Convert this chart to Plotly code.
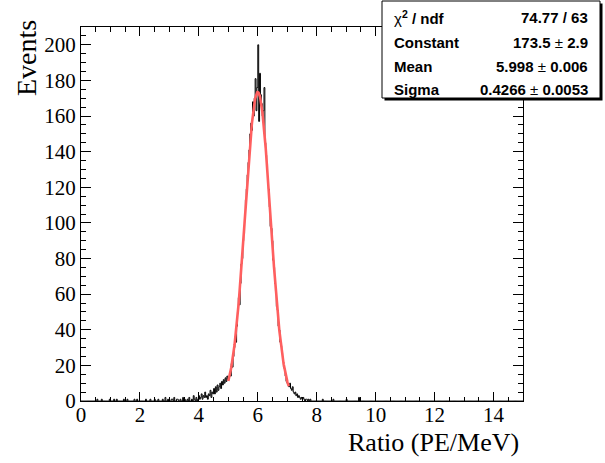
import numpy as np
import plotly.graph_objects as go

# ---------------- data ----------------
N_BINS = 500
X_MIN, X_MAX = 0.0, 15.0

# sparse entries in the low tail: bin index -> events
low_tail = {18: 1, 23: 1, 32: 1, 37: 1, 40: 1, 48: 1, 52: 1, 60: 1, 63: 1,
            73: 1, 78: 1, 83: 1, 87: 1, 92: 1, 95: 2, 98: 1, 102: 1, 103: 1,
            105: 2, 108: 1, 109: 1, 112: 1, 115: 2, 117: 1, 120: 1, 122: 2,
            125: 1, 127: 3, 128: 1}

# contiguous region around the peak, starting at bin 130 (x = 3.9)
peak_start = 130
peak_counts = [
    2, 0, 1, 3, 1, 2, 4, 1, 3, 2, 5, 2, 3, 1, 4, 3, 6, 2, 5, 4,          # 130-149
    7, 4, 8, 5, 9, 6, 8, 10, 7, 11,                                      # 150-159
    9, 12, 10, 13, 11, 14, 12, 13, 16, 14,                               # 160-169
    21, 19, 25, 30, 36, 33, 42, 50, 58, 54,                              # 170-179
    66, 77, 80, 90, 94, 104, 113, 119, 127, 134,                         # 180-189
    141, 150, 156, 152, 168, 160, 170, 181, 163, 176,                    # 190-199
    200, 157, 184, 172, 167, 160, 163, 176, 145, 138,                    # 200-209
    133, 124, 119, 109, 98, 97, 90, 79, 75, 66,                          # 210-219
    62, 53, 51, 42, 40, 33, 31, 27, 24, 19,                              # 220-229
    18, 14, 11, 10, 9, 8, 10, 7, 6, 8,                                   # 230-239
    5, 4, 5, 3, 4, 2, 3, 2, 1, 2,                                        # 240-249
    1, 2, 1, 0, 1, 1, 0, 1, 0, 1,                                        # 250-259
]

# sparse entries in the high tail
high_tail = {273: 1, 285: 1, 300: 1, 314: 2}

# Gaussian fit result (from the stats box)
fit_const = 173.5
fit_mean = 5.998
fit_sigma = 0.4266
fit_range = (5.0, 7.05)

stats_labels = ["χ<sup><b>2</b></sup><b> / ndf</b>", "<b>Constant</b>", "<b>Mean</b>", "<b>Sigma</b>"]
stats_values = ["<b>74.77 / 63</b>", "<b>173.5</b> ± <b>2.9</b>",
                "<b>5.998</b> ± <b>0.006</b>", "<b>0.4266</b> ± <b>0.0053</b>"]

x_title = "Ratio (PE/MeV)"
y_title = "Events"

# ---------------- build histogram ----------------
counts = np.zeros(N_BINS)
for b, c in low_tail.items():
    counts[b] = c
for i, c in enumerate(peak_counts):
    counts[peak_start + i] = c
for b, c in high_tail.items():
    counts[b] = c

edges = np.linspace(X_MIN, X_MAX, N_BINS + 1)
hx = edges
hy = np.append(counts, counts[-1])

fx = np.linspace(fit_range[0], fit_range[1], 300)
fy = fit_const * np.exp(-0.5 * ((fx - fit_mean) / fit_sigma) ** 2)

# ---------------- layout geometry (pixels) ----------------
W, H = 605, 463
PL, PR, PT, PB = 81, 523, 27, 401


def px(x):
    return (x - PL) / (PR - PL)


def py(y):
    return (PB - y) / (PB - PT)


fig = go.Figure()
fig.add_trace(go.Scatter(x=hx, y=hy, mode="lines", line=dict(color="black", width=1, shape="hv"),
                         hoverinfo="skip", showlegend=False))
fig.add_trace(go.Scatter(x=fx, y=fy, mode="lines", line=dict(color="rgb(255,95,95)", width=2.6),
                         hoverinfo="skip", showlegend=False))

tickfont = dict(family="Liberation Serif", size=21, color="black")
fig.update_xaxes(range=[X_MIN, X_MAX], dtick=2, tick0=0, ticks="inside", ticklen=9, tickwidth=1,
                 tickcolor="black", showline=True, linecolor="black", linewidth=1, mirror="allticks",
                 showgrid=False, zeroline=False, tickfont=tickfont, ticklabelstandoff=-5,
                 minor=dict(dtick=0.5, ticks="inside", ticklen=4.5, tickcolor="black", tickwidth=1,
                            showgrid=False))
fig.update_yaxes(range=[0, 210], dtick=20, tick0=0, ticks="inside", ticklen=10, tickwidth=1,
                 tickcolor="black", showline=True, linecolor="black", linewidth=1, mirror="allticks",
                 showgrid=False, zeroline=False, tickfont=tickfont,
                 minor=dict(dtick=5, ticks="inside", ticklen=5, tickcolor="black", tickwidth=1,
                            showgrid=False))

shapes = []
# stats box shadow and box
bx0, by0, bx1, by1 = 382, 1, 600, 98
shapes.append(dict(type="rect", xref="paper", yref="paper", x0=px(bx0 + 2.5), x1=px(bx1 + 2.5),
                   y0=py(by1 + 2.5), y1=py(by0 + 2.5), fillcolor="black", line=dict(width=0), layer="above"))
shapes.append(dict(type="rect", xref="paper", yref="paper", x0=px(bx0), x1=px(bx1),
                   y0=py(by1), y1=py(by0), fillcolor="white", line=dict(color="black", width=1), layer="above"))

annotations = []
row_y = [17.5, 42.5, 66, 89]
sfont = dict(family="Liberation Sans", size=15, color="black")
for lab, val, yy in zip(stats_labels, stats_values, row_y):
    annotations.append(dict(xref="paper", yref="paper", x=px(392), y=py(yy), text=lab, showarrow=False,
                            xanchor="left", yanchor="middle", font=sfont))
    annotations.append(dict(xref="paper", yref="paper", x=px(590), y=py(yy), text=val, showarrow=False,
                            xanchor="right", yanchor="middle", font=sfont))

tfont = dict(family="Liberation Serif", size=26, color="black")
annotations.append(dict(xref="paper", yref="paper", x=px(521), y=py(442), text=x_title, showarrow=False,
                        xanchor="right", yanchor="middle", font=tfont))
annotations.append(dict(xref="paper", yref="paper", x=px(27), y=py(18), text=y_title, showarrow=False,
                        textangle=-90, xanchor="center", yanchor="top",
                        font=dict(family="Liberation Serif", size=28, color="black")))

fig.update_layout(width=W, height=H, margin=dict(l=PL, r=W - PR, t=PT, b=H - PB),
                  paper_bgcolor="white", plot_bgcolor="white", shapes=shapes, annotations=annotations,
                  showlegend=False)

fig.write_html("out.html")
